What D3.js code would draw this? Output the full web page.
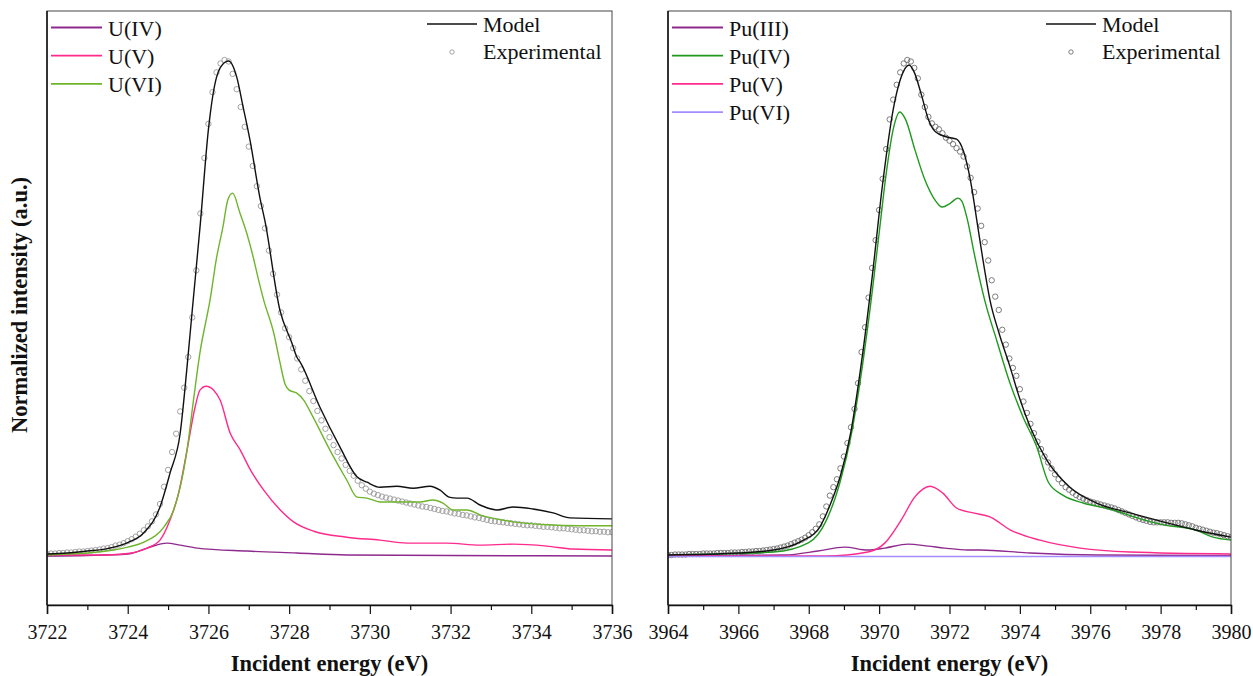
<!DOCTYPE html>
<html>
<head>
<meta charset="utf-8">
<script src="https://cdn.jsdelivr.net/npm/d3@7"></script>
<style>
  body { margin: 0; background: #fff; }
  text { font-family: "Liberation Serif", "Times New Roman", serif; fill: #111; }
</style>
</head>
<body>
<div id="chart"></div>
<script>
// ---- data (intensity normalised so the experimental peak = 1) ----

// U M4 edge
const uExpStart = 3722.0, uExpStep = 0.1;
const uExperimental = [
  0.002,0.003,0.003,0.004,0.004,0.005,0.005,0.006,0.007,0.007,
  0.008,0.009,0.010,0.011,0.013,0.014,0.016,0.019,0.021,0.024,
  0.028,0.032,0.037,0.043,0.050,0.058,0.068,0.082,0.103,0.138,
  0.172,0.208,0.245,0.290,0.338,0.400,0.480,0.575,0.690,0.802,
  0.871,0.935,0.975,0.993,1.000,0.997,0.972,0.941,0.905,0.865,
  0.825,0.786,0.745,0.705,0.660,0.615,0.568,0.526,0.490,0.458,
  0.440,0.418,0.397,0.375,0.352,0.331,0.311,0.291,0.272,0.255,
  0.238,0.222,0.208,0.195,0.182,0.170,0.160,0.150,0.141,0.134,
  0.128,0.124,0.121,0.118,0.116,0.114,0.112,0.110,0.108,0.106,
  0.104,0.102,0.100,0.098,0.097,0.095,0.093,0.091,0.089,0.088,
  0.086,0.084,0.083,0.081,0.080,0.078,0.076,0.075,0.073,0.071,
  0.069,0.068,0.067,0.066,0.065,0.064,0.063,0.062,0.061,0.060,
  0.060,0.059,0.058,0.057,0.057,0.056,0.055,0.054,0.054,0.053,
  0.052,0.051,0.050,0.050,0.049,0.048,0.048,0.047,0.047,0.046,
  0.046
];
const uModel = [
  [3722.0,0.002],[3722.5,0.004],[3723.0,0.008],[3723.5,0.013],[3724.0,0.025],[3724.4,0.045],
  [3724.8,0.097],[3725.05,0.166],[3725.3,0.246],[3725.47,0.38],[3725.6,0.495],[3725.8,0.67],
  [3726.0,0.86],[3726.2,0.965],[3726.4,0.995],[3726.5,0.998],[3726.7,0.966],[3726.86,0.905],
  [3727.03,0.838],[3727.28,0.72],[3727.4,0.675],[3727.77,0.495],[3728.07,0.428],[3728.19,0.40],
  [3728.27,0.39],[3728.76,0.299],[3729.26,0.218],[3729.68,0.158],[3729.93,0.147],[3730.25,0.137],
  [3730.67,0.139],[3731.07,0.135],[3731.49,0.139],[3731.74,0.131],[3731.96,0.117],[3732.16,0.115],
  [3732.41,0.115],[3732.73,0.101],[3733.15,0.091],[3733.55,0.097],[3734.04,0.093],[3734.54,0.085],
  [3734.96,0.075],[3736.0,0.073]
];
const uIV = [
  [3722.0,-0.002],[3723.0,-0.001],[3724.0,0.002],[3724.48,0.014],[3724.97,0.024],[3725.3,0.02],
  [3725.72,0.014],[3726.96,0.008],[3728.19,0.004],[3729.43,0.0],[3732.0,-0.001],[3736.0,-0.002]
];
const uV = [
  [3722.0,0.0],[3723.5,0.0],[3724.0,0.003],[3724.48,0.014],[3724.8,0.03],[3725.05,0.071],
  [3725.26,0.125],[3725.47,0.212],[3725.67,0.299],[3725.79,0.333],[3725.94,0.341],[3726.13,0.333],
  [3726.29,0.313],[3726.54,0.246],[3726.79,0.212],[3727.04,0.172],[3727.37,0.131],[3727.78,0.091],
  [3728.11,0.067],[3728.61,0.048],[3729.43,0.036],[3730.25,0.030],[3730.92,0.024],[3731.9,0.024],
  [3732.73,0.020],[3733.55,0.022],[3734.39,0.018],[3735.03,0.012],[3736.0,0.010]
];
const uVI = [
  [3722.0,0.0],[3722.5,0.002],[3723.0,0.004],[3723.65,0.010],[3724.0,0.016],[3724.4,0.026],
  [3724.9,0.057],[3725.14,0.091],[3725.3,0.137],[3725.47,0.212],[3725.63,0.313],[3725.8,0.414],
  [3725.96,0.481],[3726.04,0.515],[3726.2,0.60],[3726.36,0.663],[3726.48,0.717],[3726.6,0.731],
  [3726.78,0.691],[3726.95,0.65],[3727.1,0.605],[3727.23,0.56],[3727.37,0.515],[3727.62,0.448],
  [3727.77,0.39],[3727.9,0.345],[3728.0,0.333],[3728.19,0.327],[3728.36,0.313],[3728.59,0.279],
  [3729.01,0.212],[3729.43,0.151],[3729.68,0.117],[3729.93,0.115],[3730.25,0.107],[3730.75,0.107],
  [3731.24,0.107],[3731.56,0.111],[3731.81,0.105],[3732.06,0.091],[3732.41,0.091],[3732.73,0.081],
  [3733.55,0.067],[3734.39,0.061],[3735.2,0.059],[3736.0,0.059]
];
const uTicks = [3722,3724,3726,3728,3730,3732,3734,3736];

// Pu M4 edge
const puExpStart = 3964.0, puExpStep = 0.1;
const puExperimental = [
  0.000,0.000,0.001,0.001,0.001,0.001,0.002,0.002,0.002,0.002,
  0.003,0.003,0.003,0.003,0.004,0.004,0.004,0.004,0.005,0.005,
  0.005,0.006,0.006,0.007,0.007,0.008,0.008,0.009,0.010,0.011,
  0.012,0.013,0.015,0.017,0.019,0.022,0.025,0.028,0.031,0.035,
  0.040,0.046,0.053,0.062,0.078,0.098,0.120,0.137,0.153,0.175,
  0.199,0.226,0.258,0.295,0.347,0.410,0.460,0.520,0.580,0.636,
  0.697,0.760,0.820,0.880,0.920,0.950,0.975,0.993,1.000,0.997,
  0.984,0.963,0.930,0.905,0.885,0.872,0.865,0.860,0.852,0.843,
  0.837,0.830,0.822,0.815,0.805,0.785,0.762,0.733,0.700,0.665,
  0.632,0.595,0.555,0.522,0.495,0.455,0.425,0.397,0.378,0.362,
  0.335,0.310,0.287,0.265,0.246,0.229,0.214,0.199,0.187,0.175,
  0.163,0.153,0.145,0.137,0.132,0.126,0.121,0.117,0.114,0.111,
  0.108,0.106,0.104,0.102,0.100,0.098,0.096,0.094,0.091,0.088,
  0.085,0.082,0.079,0.076,0.073,0.071,0.069,0.067,0.066,0.066,
  0.066,0.066,0.066,0.065,0.065,0.065,0.064,0.062,0.060,0.058,
  0.055,0.053,0.051,0.049,0.047,0.045,0.044,0.042,0.040,0.038,
  0.036
];
const puModel = [
  [3964.0,0.0],[3966.0,0.004],[3967.0,0.010],[3967.8,0.028],[3968.3,0.055],[3968.6,0.10],
  [3968.9,0.16],[3969.2,0.25],[3969.5,0.39],[3969.8,0.56],[3970.1,0.75],[3970.4,0.90],
  [3970.6,0.96],[3970.85,0.99],[3971.0,0.975],[3971.2,0.93],[3971.4,0.88],[3971.6,0.855],
  [3971.9,0.845],[3972.2,0.84],[3972.4,0.815],[3972.6,0.755],[3972.8,0.665],[3973.0,0.575],
  [3973.15,0.515],[3973.4,0.45],[3973.72,0.38],[3974.0,0.315],[3974.29,0.259],[3974.76,0.192],
  [3975.42,0.137],[3976.18,0.105],[3977.13,0.085],[3978.07,0.067],[3979.02,0.05],[3980.0,0.036]
];
const puIII = [
  [3964.0,-0.002],[3967.32,0.0],[3968.26,0.008],[3969.02,0.016],[3969.68,0.010],[3970.16,0.014],
  [3970.82,0.022],[3971.39,0.018],[3971.86,0.014],[3972.52,0.010],[3972.87,0.010],[3974.29,0.004],
  [3976.2,0.0],[3980.0,-0.001]
];
const puIV = [
  [3964.0,0.0],[3967.0,0.006],[3968.0,0.025],[3968.5,0.07],[3968.9,0.15],[3969.2,0.24],
  [3969.5,0.37],[3969.8,0.53],[3970.0,0.65],[3970.2,0.77],[3970.4,0.86],[3970.59,0.895],
  [3970.75,0.88],[3971.02,0.818],[3971.3,0.758],[3971.59,0.717],[3971.79,0.703],[3972.01,0.71],
  [3972.24,0.721],[3972.35,0.715],[3972.5,0.68],[3972.7,0.61],[3972.85,0.56],[3973.0,0.515],
  [3973.34,0.434],[3973.72,0.347],[3974.09,0.279],[3974.48,0.218],[3974.81,0.147],[3975.22,0.121],
  [3975.8,0.105],[3976.65,0.091],[3977.33,0.075],[3978.07,0.061],[3979.02,0.05],[3979.49,0.036],
  [3980.0,0.03]
];
const puV = [
  [3964.0,-0.002],[3968.5,-0.002],[3969.68,0.006],[3970.16,0.024],[3970.63,0.071],[3971.01,0.117],
  [3971.45,0.139],[3971.81,0.125],[3972.2,0.095],[3972.67,0.085],[3973.15,0.077],[3973.72,0.051],
  [3974.57,0.030],[3975.71,0.014],[3977.13,0.006],[3980.0,0.002]
];
const puVI = [
  [3964.0,-0.003],[3968.0,-0.003],[3972.0,-0.003],[3976.0,-0.003],[3980.0,-0.003]
];
const puTicks = [3964,3966,3968,3970,3972,3974,3976,3978,3980];

// ---- layout ----
const W = 1253, H = 676;
const plotTop = 11, plotBottom = 605;
const yDomain = [-0.101, 1.099];
const cPurple = "#8e2a8e", cPink = "#ff2a8c", cLime = "#6fb52c", cGreen = "#1f9a1f", cLav = "#a58cff";

const svg = d3.select("#chart").append("svg")
  .attr("width", W).attr("height", H);

function expPoints(start, step, vals) {
  return vals.map((v, i) => [+(start + i * step).toFixed(2), v]);
}

function drawPanel(cfg) {
  const x = d3.scaleLinear().domain(cfg.domain).range([cfg.left, cfg.right]);
  const y = d3.scaleLinear().domain(yDomain).range([plotBottom, plotTop]);
  const g = svg.append("g");

  const clipId = "clip" + cfg.id;
  g.append("clipPath").attr("id", clipId).append("rect")
    .attr("x", cfg.left).attr("y", plotTop)
    .attr("width", cfg.right - cfg.left).attr("height", plotBottom - plotTop);

  const plot = g.append("g").attr("clip-path", `url(#${clipId})`);
  const line = d3.line().x(d => x(d[0])).y(d => y(d[1])).curve(d3.curveMonotoneX);

  // experimental circles
  plot.append("g").selectAll("circle")
    .data(cfg.exp)
    .enter().append("circle")
    .attr("cx", d => x(d[0])).attr("cy", d => y(d[1]))
    .attr("r", 2.7)
    .attr("fill", "none")
    .attr("stroke", cfg.expColor)
    .attr("stroke-width", 0.9);

  cfg.series.forEach(s => {
    plot.append("path").datum(s.data)
      .attr("d", line)
      .attr("fill", "none")
      .attr("stroke", s.color)
      .attr("stroke-width", 1.4);
  });
  plot.append("path").datum(cfg.model)
    .attr("d", line)
    .attr("fill", "none")
    .attr("stroke", "#111")
    .attr("stroke-width", 1.4);

  // frame
  g.append("rect")
    .attr("x", cfg.left).attr("y", plotTop)
    .attr("width", cfg.right - cfg.left).attr("height", plotBottom - plotTop)
    .attr("fill", "none").attr("stroke", "#444").attr("stroke-width", 1);
  g.append("line")
    .attr("x1", cfg.left).attr("x2", cfg.left)
    .attr("y1", plotTop).attr("y2", plotBottom)
    .attr("stroke", "#111").attr("stroke-width", 1.5);

  // x axis
  const minor = d3.range(cfg.domain[0] + 1, cfg.domain[1], 2);
  g.append("g").attr("transform", `translate(0,${plotBottom})`)
    .call(d3.axisBottom(x).tickValues(minor).tickSize(5).tickFormat(""))
    .call(a => a.select(".domain").remove());
  const ax = g.append("g").attr("transform", `translate(0,${plotBottom})`)
    .call(d3.axisBottom(x).tickValues(cfg.ticks).tickSize(9).tickPadding(11).tickFormat(d3.format("d")));
  ax.select(".domain").attr("stroke", "#111").attr("stroke-width", 1.5);
  ax.selectAll("text")
    .style("font-family", "Liberation Serif")
    .style("font-size", "20px")
    .attr("fill", "#111");
  g.selectAll(".tick line").attr("stroke", "#111").attr("stroke-width", 1.2);

  g.append("text")
    .attr("x", (cfg.left + cfg.right) / 2).attr("y", 671)
    .attr("text-anchor", "middle")
    .style("font-size", "22.5px").style("font-weight", "bold")
    .text("Incident energy (eV)");

  // component legend, upper left
  const lg = g.append("g");
  cfg.series.forEach((s, i) => {
    const ly = 27.5 + i * 28.2;
    lg.append("line")
      .attr("x1", cfg.left + 4).attr("x2", cfg.left + 55)
      .attr("y1", ly).attr("y2", ly)
      .attr("stroke", s.color).attr("stroke-width", 1.8);
    lg.append("text")
      .attr("x", cfg.left + 61).attr("y", ly + 8)
      .style("font-size", "22px")
      .text(s.name);
  });

  // model / experimental legend, upper right
  const rx = cfg.right - 185;
  lg.append("line")
    .attr("x1", rx).attr("x2", rx + 50)
    .attr("y1", 24).attr("y2", 24)
    .attr("stroke", "#111").attr("stroke-width", 1.5);
  lg.append("text").attr("x", rx + 56).attr("y", 31.5)
    .style("font-size", "22px").text("Model");
  lg.append("circle")
    .attr("cx", rx + 25).attr("cy", 52)
    .attr("r", 2.2).attr("fill", "none")
    .attr("stroke", cfg.expColor).attr("stroke-width", 0.9);
  lg.append("text").attr("x", rx + 56).attr("y", 59)
    .style("font-size", "22px").text("Experimental");
}

drawPanel({
  id: "U", left: 47, right: 612, domain: [3722, 3736], ticks: uTicks,
  exp: expPoints(uExpStart, uExpStep, uExperimental), expColor: "#999999",
  model: uModel,
  series: [
    { name: "U(IV)", data: uIV, color: cPurple },
    { name: "U(V)", data: uV, color: cPink },
    { name: "U(VI)", data: uVI, color: cLime }
  ]
});

drawPanel({
  id: "Pu", left: 668, right: 1231, domain: [3964, 3980], ticks: puTicks,
  exp: expPoints(puExpStart, puExpStep, puExperimental), expColor: "#6e6e6e",
  model: puModel,
  series: [
    { name: "Pu(III)", data: puIII, color: cPurple },
    { name: "Pu(IV)", data: puIV, color: cGreen },
    { name: "Pu(V)", data: puV, color: cPink },
    { name: "Pu(VI)", data: puVI, color: cLav }
  ]
});

// shared y-axis title
svg.append("text")
  .attr("transform", "translate(27,305) rotate(-90)")
  .attr("text-anchor", "middle")
  .style("font-size", "22.5px").style("font-weight", "bold")
  .text("Normalized intensity (a.u.)");
</script>
</body>
</html>
